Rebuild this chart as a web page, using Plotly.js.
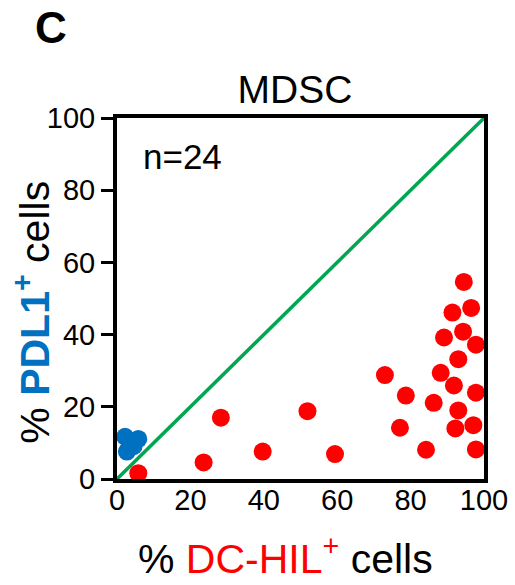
<!DOCTYPE html>
<html>
<head>
<meta charset="utf-8">
<script src="https://cdn.plot.ly/plotly-3.0.1.min.js"></script>
<style>html,body{margin:0;padding:0;background:#fff;}#chart{width:515px;height:585px;}</style>
</head>
<body>
<div id="chart"></div>
<script>
// DC-HIL+ (red) and PDL1+ (blue) MDSC percentages
var dchilX = [5.8, 23.6, 28.3, 39.7, 51.9, 59.4, 73.0, 78.7, 77.1, 84.2, 86.3, 88.2, 89.1, 91.4, 91.8, 92.2, 93.0, 93.0, 94.3, 94.5, 96.5, 97.8, 97.8, 97.1, 97.8];
var dchilY = [1.6, 4.6, 17.0, 7.6, 18.8, 6.9, 28.8, 23.1, 14.2, 8.1, 21.1, 29.4, 39.2, 46.1, 25.9, 14.0, 19.0, 33.2, 40.8, 54.6, 47.4, 37.2, 23.9, 14.9, 8.2];
var pdl1X = [2.2, 5.8, 2.7, 4.5];
var pdl1Y = [11.7, 11.1, 7.6, 9.1];
var diagX = [0, 100];
var diagY = [0, 100];
var tickVals = [0, 20, 40, 60, 80, 100];
var tickText = ['0', '20', '40', '60', '80', '100'];

var FONT = 'Arial, "Liberation Sans", sans-serif';
var RED = '#ff0000', BLUE = '#0070c0', GREEN = '#00a651';

var traces = [
  {x: diagX, y: diagY, mode: 'lines', line: {color: GREEN, width: 3.5}, hoverinfo: 'skip', cliponaxis: false},
  {x: dchilX, y: dchilY, mode: 'markers', marker: {color: RED, size: 18}, cliponaxis: false},
  {x: pdl1X, y: pdl1Y, mode: 'markers', marker: {color: BLUE, size: 18}, cliponaxis: false}
];

var axisCommon = {
  range: [0, 100], tickvals: tickVals, ticktext: tickText,
  showgrid: false, zeroline: false, showline: true, mirror: true,
  linecolor: '#000', linewidth: 4, tickcolor: '#000',
  tickfont: {family: FONT, size: 29, color: '#000'}, automargin: false, fixedrange: true
};

var layout = {
  width: 515, height: 585,
  margin: {l: 117, r: 31, t: 118, b: 106},
  paper_bgcolor: '#fff', plot_bgcolor: '#fff',
  showlegend: false,
  font: {family: FONT, color: '#000'},
  title: {text: 'MDSC', font: {family: FONT, size: 39, color: '#000'}, x: 0.485, xref: 'paper', xanchor: 'center', y: 0.848, yanchor: 'middle'},
  xaxis: Object.assign({}, axisCommon, {ticks: '', ticklabelstandoff: -8}),
  yaxis: Object.assign({}, axisCommon, {ticks: 'outside', ticklen: 12, tickwidth: 3}),
  annotations: [
    {text: '% <span style="color:' + RED + '">DC-HIL<sup>+</sup></span> cells', x: 0.46, y: -0.212, xref: 'paper', yref: 'paper', xanchor: 'center', yanchor: 'middle', showarrow: false, font: {family: FONT, size: 41, color: '#000'}},
    {text: '% <b><span style="color:' + BLUE + '">PDL1<sup>+</sup></span></b> cells', x: -0.232, y: 0.463, xref: 'paper', yref: 'paper', xanchor: 'center', yanchor: 'middle', textangle: -90, showarrow: false, font: {family: FONT, size: 41, color: '#000'}},
    {text: 'n=24', x: 6.6, y: 89.3, xref: 'x', yref: 'y', xanchor: 'left', yanchor: 'middle', showarrow: false, font: {family: FONT, size: 35, color: '#000'}},
    {text: '<b>C</b>', x: -0.18, y: 1.25, xref: 'paper', yref: 'paper', xanchor: 'center', yanchor: 'middle', showarrow: false, font: {family: FONT, size: 44, color: '#000'}}
  ]
};

Plotly.newPlot('chart', traces, layout, {displayModeBar: false, staticPlot: true});
</script>
</body>
</html>
